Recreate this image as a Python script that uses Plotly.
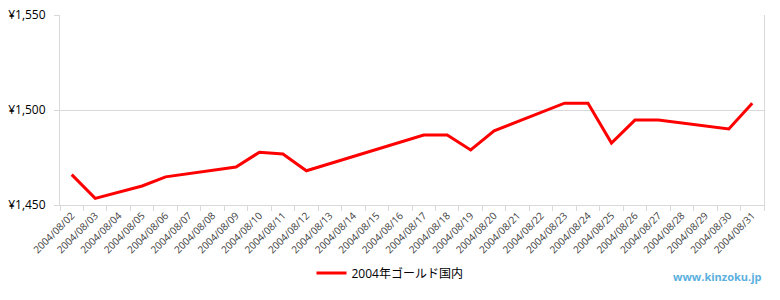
import plotly.graph_objects as go

dates = [f"2004/08/{d:02d}" for d in range(2, 32)]
price_by_date = {
    "2004/08/02": 1466, "2004/08/03": 1453.5, "2004/08/05": 1460, "2004/08/06": 1464.8,
    "2004/08/09": 1470, "2004/08/10": 1477.8, "2004/08/11": 1476.8, "2004/08/12": 1468,
    "2004/08/17": 1486.8, "2004/08/18": 1486.8, "2004/08/19": 1479, "2004/08/20": 1489,
    "2004/08/23": 1503.6, "2004/08/24": 1503.6, "2004/08/25": 1482.6, "2004/08/26": 1494.7,
    "2004/08/27": 1494.7, "2004/08/30": 1490, "2004/08/31": 1503.6,
}
prices = [price_by_date.get(d) for d in dates]
series_name = "2004年ゴールド国内"
y_ticks = [1450, 1500, 1550]

font_family = "Open Sans, Noto Sans CJK JP, sans-serif"

fig = go.Figure()
fig.add_trace(go.Scatter(
    x=dates, y=prices, mode="lines", name=series_name, connectgaps=True,
    line=dict(color="#ff0000", width=3),
))
fig.update_layout(
    width=780, height=300,
    margin=dict(l=60, r=16, t=15, b=95, autoexpand=False),
    plot_bgcolor="white", paper_bgcolor="white",
    font=dict(family=font_family, color="#404040"),
    showlegend=True,
    legend=dict(orientation="h", xref="container", x=0.5, xanchor="center",
                yref="container", y=0.09, yanchor="middle",
                font=dict(size=12, color="#000000"), itemwidth=30),
    xaxis=dict(type="category", categoryorder="array", categoryarray=dates,
               range=[-0.5, len(dates) - 0.5], automargin=False,
               tickangle=-45, tickfont=dict(size=10, color="#404040"),
               showgrid=False, showline=True, linecolor="#d9d9d9",
               ticks="outside", tickson="boundaries", ticklen=5, tickcolor="#d9d9d9",
               mirror=False),
    yaxis=dict(range=[1450, 1550], tickvals=y_ticks, automargin=False,
               ticktext=[f"¥{v:,}" for v in y_ticks],
               tickfont=dict(size=12, color="#000000"), ticklabelstandoff=6,
               showgrid=True, gridcolor="#d9d9d9", zeroline=False,
               showline=True, linecolor="#d9d9d9", ticks="outside", ticklen=5,
               tickcolor="#d9d9d9", mirror=True),
    annotations=[dict(text="<b>www.kinzoku.jp</b>", xref="paper", yref="paper",
                      x=1.0, y=-0.375, xanchor="right", yanchor="middle", showarrow=False,
                      font=dict(size=11, color="#5bb0dd"))],
)
fig.write_html("out.html")
